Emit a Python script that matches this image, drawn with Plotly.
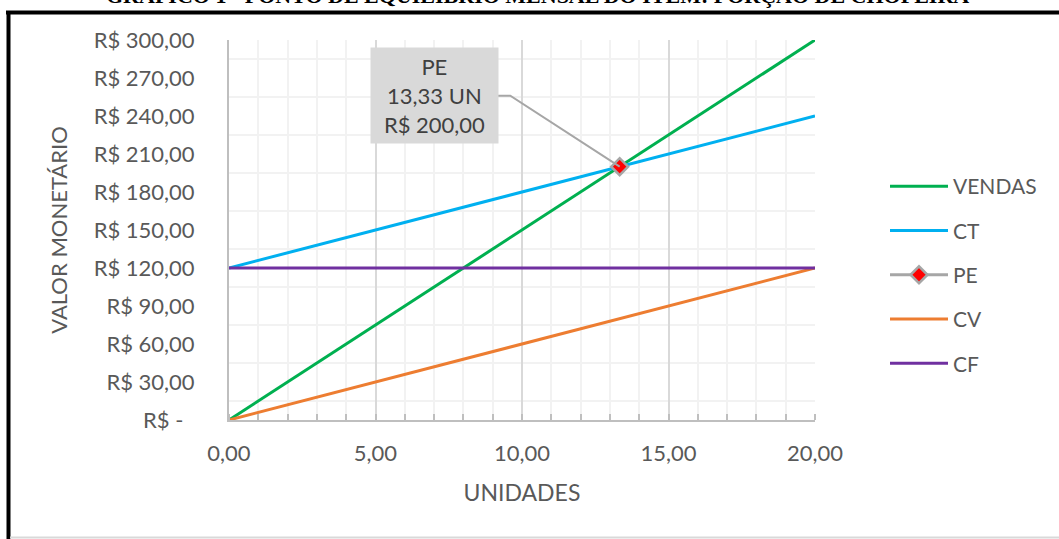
import plotly.graph_objects as go

# Break-even data (units vs. monetary value, R$)
unidades = [0, 20]
vendas = [0, 300]
ct = [120, 240]
cv = [0, 120]
cf = [120, 120]
pe_x = 40 / 3
pe_y = 200

y_ticks = [0, 30, 60, 90, 120, 150, 180, 210, 240, 270, 300]
y_labels = ["R$ -\u00a0\u00a0", "R$ 30,00", "R$ 60,00", "R$ 90,00", "R$ 120,00",
            "R$ 150,00", "R$ 180,00", "R$ 210,00", "R$ 240,00", "R$ 270,00", "R$ 300,00"]
x_ticks = [0, 5, 10, 15, 20]
x_labels = ["0,00", "5,00", "10,00", "15,00", "20,00"]

W, H = 1059, 539
L, R, T, B = 229, 244, 40, 119
PW, PH = W - L - R, H - T - B

def px(x):
    return (x - L) / PW

def py(y):
    return (H - B - y) / PH

FONT = "Lato, Open Sans, sans-serif"
GREY_TXT = "#595959"

fig = go.Figure()
fig.add_trace(go.Scatter(x=unidades, y=vendas, name="VENDAS", mode="lines",
                         line=dict(color="#00b050", width=3),
                         legendgroup="vendas", legendrank=1))
fig.add_trace(go.Scatter(x=unidades, y=ct, name="CT", mode="lines",
                         line=dict(color="#00b0f0", width=3),
                         legendgroup="ct", legendrank=2))
fig.add_trace(go.Scatter(x=unidades, y=cv, name="CV", mode="lines",
                         line=dict(color="#ed7d31", width=3),
                         legendgroup="cv", legendrank=4))
fig.add_trace(go.Scatter(x=unidades, y=cf, name="CF", mode="lines",
                         line=dict(color="#7030a0", width=3),
                         legendgroup="cf", legendrank=5))
# PE drawn last so the marker sits on top of the lines
fig.add_trace(go.Scatter(x=[pe_x], y=[pe_y], name="PE", mode="lines+markers",
                         line=dict(color="#a6a6a6", width=3),
                         marker=dict(symbol="diamond", size=13, color="#ff0000",
                                     line=dict(color="#a6a6a6", width=2.5)),
                         legendgroup="pe", legendrank=3))

# callout box and its leader line
box_x, box_y = 7.0, 256.0
fig.add_annotation(x=box_x, y=box_y, xref="x", yref="y", showarrow=False,
                   text="PE<br>13,33 UN<br>R$ 200,00",
                   font=dict(family=FONT, size=22, color="#404040"),
                   bgcolor="#d9d9d9", width=121, height=89, borderpad=3)
elbow_x0, elbow_x1 = 9.18, 9.6
fig.add_shape(type="path", xref="x", yref="y",
              path=f"M {elbow_x0} {box_y} L {elbow_x1} {box_y} L {pe_x} {pe_y}",
              line=dict(color="#a6a6a6", width=2), layer="above")

# page frame
fig.add_shape(type="line", xref="paper", yref="paper", x0=px(6), x1=px(1059),
              y0=py(12.5), y1=py(12.5), line=dict(color="black", width=4))
fig.add_shape(type="line", xref="paper", yref="paper", x0=px(8.5), x1=px(8.5),
              y0=py(11), y1=py(539), line=dict(color="black", width=4))
fig.add_shape(type="line", xref="paper", yref="paper", x0=px(10), x1=px(1059),
              y0=py(537.5), y1=py(537.5), line=dict(color="#d9d9d9", width=2))

# figure caption (partly above the page edge)
fig.add_annotation(xref="paper", yref="paper", x=px(537), y=py(10), xanchor="center",
                   yanchor="bottom", showarrow=False,
                   text="<b>GRÁFICO 1 - PONTO DE EQUILÍBRIO MENSAL DO ITEM: PORÇÃO DE CHOPEIRA</b>",
                   font=dict(family="Liberation Serif", size=22, color="black"))

fig.update_layout(
    width=W, height=H,
    margin=dict(l=L, r=R, t=T, b=B, pad=0),
    paper_bgcolor="white", plot_bgcolor="white",
    font=dict(family=FONT, color=GREY_TXT),
    legend=dict(x=px(885), y=py(166), xanchor="left", yanchor="top",
                font=dict(size=21, color=GREY_TXT), itemwidth=58,
                tracegroupgap=14, traceorder="grouped", bgcolor="rgba(0,0,0,0)"),
    xaxis=dict(range=[0, 20], tickvals=x_ticks, ticktext=x_labels,
               tickfont=dict(size=22, color=GREY_TXT),
               showgrid=True, gridcolor="#d9d9d9", gridwidth=2,
               showline=True, linecolor="#bfbfbf", linewidth=2,
               ticks="", ticklabelstandoff=13,
               minor=dict(dtick=1, tick0=0, showgrid=True, gridcolor="#f2f2f2",
                          gridwidth=1.5, ticks="inside", ticklen=6,
                          tickcolor="#bfbfbf", tickwidth=2),
               title=dict(text="UNIDADES", font=dict(size=23, color=GREY_TXT),
                          standoff=19),
               zeroline=False, fixedrange=True),
    yaxis=dict(range=[0, 300], tickvals=y_ticks, ticktext=y_labels,
               tickfont=dict(size=22, color=GREY_TXT),
               showgrid=False, showline=True, linecolor="#bfbfbf", linewidth=2,
               ticks="", ticklabelstandoff=28,
               minor=dict(dtick=30, tick0=15, showgrid=True, gridcolor="#f2f2f2",
                          gridwidth=1.5),
               title=dict(text="VALOR MONETÁRIO", font=dict(size=22, color=GREY_TXT),
                          standoff=20),
               zeroline=False, fixedrange=True),
)

fig.write_html("out.html")
